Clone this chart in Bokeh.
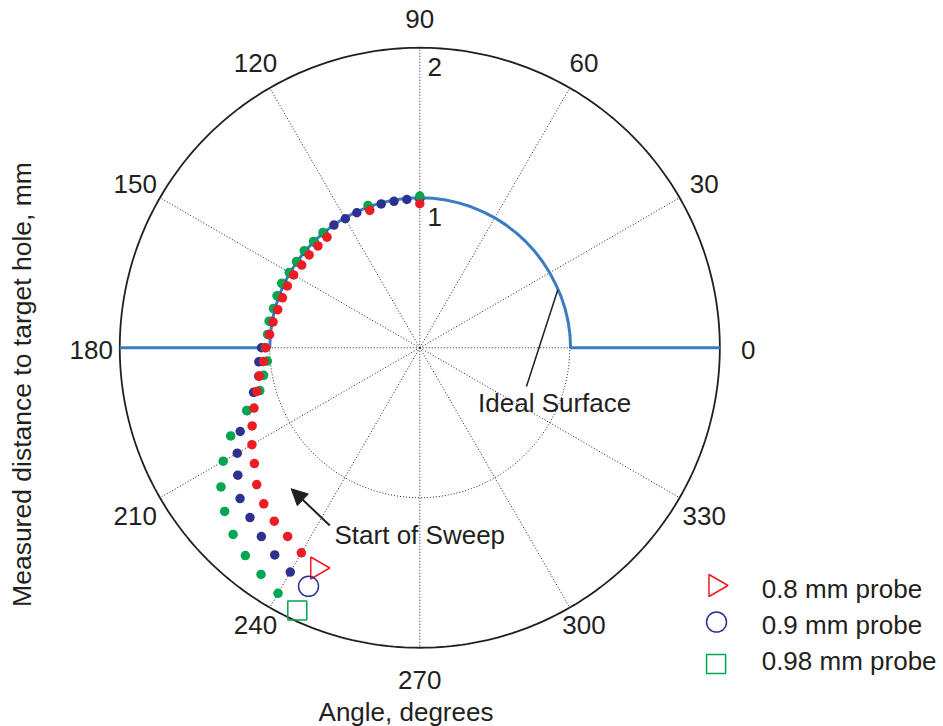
import numpy as np
from bokeh.plotting import figure
from bokeh.models import Range1d, Arrow, NormalHead
from bokeh.embed import file_html
from bokeh.resources import INLINE
from bokeh.core.properties import value

# ---- measured sweeps: angle (deg) and distance to target hole (mm) ----
angles_08 = [90, 110, 130, 135, 140, 145, 150, 155, 160, 165, 170, 175, 180,
             185, 190, 195, 200, 205, 210, 215, 220, 225, 230, 235, 240]
dist_08 = [0.96, 0.974, 0.962, 0.96, 0.963, 0.961, 0.971, 0.974, 0.974, 0.98,
           0.993, 1.005, 1.027, 1.045, 1.087, 1.125, 1.176, 1.233, 1.292,
           1.346, 1.419, 1.471, 1.509, 1.536, 1.579]

angles_09 = [90, 95, 100, 105, 110, 115, 120, 125, 130, 135, 140, 145, 150,
             155, 160, 165, 170, 175, 180, 185, 190, 195, 200, 205, 210, 215,
             220, 225, 230, 235, 240]
dist_09 = [0.99, 0.992, 0.991, 0.993, 0.99, 0.993, 0.993, 0.998, 0.995, 0.995,
           0.997, 0.996, 0.998, 1.0, 1.0, 1.0, 1.005, 1.015, 1.055, 1.077,
           1.09, 1.147, 1.225, 1.321, 1.405, 1.481, 1.564, 1.601, 1.643,
           1.686, 1.727]

angles_098 = [90, 110, 130, 135, 140, 145, 150, 155, 160, 165, 170, 175, 180,
              185, 190, 195, 200, 205, 210, 215, 220, 225, 230, 235, 240]
dist_098 = [1.011, 1.01, 1.004, 1.002, 1.006, 1.003, 1.005, 1.016, 1.013,
            1.01, 1.02, 1.018, 1.03, 1.02, 1.057, 1.104, 1.227, 1.391, 1.513,
            1.618, 1.698, 1.76, 1.809, 1.845, 1.89]

# ideal surface profile
ideal_angles = [0, 0, 5, 10, 15, 20, 25, 30, 35, 40, 45, 50, 55, 60, 65, 70,
                75, 80, 85, 90, 95, 100, 105, 110, 115, 120, 125, 130, 135,
                140, 145, 150, 155, 160, 165, 170, 175, 180, 180]
ideal_r = [2, 1.005, 1.005, 1.004, 1.003, 1.002, 1.0, 1.0, 1.0, 1.0, 1.0,
           1.0, 1.0, 1.0, 1.0, 1.0, 1.0, 1.0, 1.0, 1.0, 1.0, 1.0, 1.0, 1.0,
           1.0, 1.0, 1.0, 1.0, 1.0, 1.0, 1.0, 1.0, 1.0, 1.0, 1.0, 1.0, 1.0,
           1.0, 2]

# start-of-sweep markers
start_angle = [245, 245, 245]
start_r = [1.62, 1.755, 1.932]

probe_labels = ["0.8 mm probe", "0.9 mm probe", "0.98 mm probe"]
angle_ticks = [0, 30, 60, 90, 120, 150, 180, 210, 240, 270, 300, 330]
r_ticks = [1, 2]
r_max = 2

RED, NAVY, GREEN = "#ed1c24", "#2e3192", "#00a651"
BLUE = "#3b7dc4"
INK = "#231f20"
FONT = value("Liberation Sans")
PX = 1 / 150.0  # one screen pixel in data units


def to_xy(ang_deg, r):
    t = np.radians(np.asarray(ang_deg, dtype=float))
    r = np.asarray(r, dtype=float)
    return r * np.cos(t), r * np.sin(t)


def label(x, y, text, align="center", size="26px", angle=0.0):
    p.text(x, y, text=text, angle=angle, text_font=FONT, text_font_size=size,
           text_color=INK, text_align=align, text_baseline="middle")


p = figure(width=943, height=726, output_backend="svg", toolbar_location=None,
           x_range=Range1d(-2.795, 3.491), y_range=Range1d(-2.525, 2.315),
           x_axis_type=None, y_axis_type=None, min_border=0,
           background_fill_color="white", border_fill_color="white")
p.outline_line_color = None
p.grid.visible = False

# polar grid: spokes, inner ring, outer boundary
sx, sy = to_xy(angle_ticks, [r_max] * len(angle_ticks))
p.segment(x0=[0] * len(sx), y0=[0] * len(sy), x1=sx, y1=sy,
          line_color=INK, line_width=1, line_dash="1 2")
ring = np.linspace(0, 360, 361)
rx, ry = to_xy(ring, np.full(ring.shape, r_ticks[0]))
p.line(rx, ry, line_color=INK, line_width=1, line_dash="1 2")
ox, oy = to_xy(ring, np.full(ring.shape, r_max))
p.line(ox, oy, line_color=INK, line_width=1.8)

# ideal surface
ix, iy = to_xy(ideal_angles, ideal_r)
p.line(ix, iy, line_color=BLUE, line_width=3)

# measured sweeps
for ang, dist, col in [(angles_09, dist_09, NAVY),
                       (angles_098, dist_098, GREEN),
                       (angles_08, dist_08, RED)]:
    x, y = to_xy(ang, dist)
    p.scatter(x, y, size=9.5, fill_color=col, line_color=None)

# start-of-sweep markers
mx, my = to_xy(start_angle, start_r)
p.scatter([mx[0]], [my[0]], marker="triangle", size=22, angle=-np.pi / 2,
          fill_color=None, line_color=RED, line_width=1.5)
p.scatter([mx[1]], [my[1]], marker="circle", size=20,
          fill_color=None, line_color=NAVY, line_width=1.5)
p.scatter([mx[2]], [my[2]], marker="square", size=19,
          fill_color=None, line_color=GREEN, line_width=1.5)

# angle labels around the rim (small vertical nudges in the lower half)
lx, ly = to_xy(angle_ticks, [2.19] * len(angle_ticks))
nudge = np.array([-2, 0, 0, 0, 0, 0, -2, -4, 7, -4, 7, -4]) * PX
label(lx, ly + nudge, [str(a) for a in angle_ticks])

# radius labels along 90 degrees
label([0.1, 0.1], [r - 0.125 for r in r_ticks], [str(r) for r in r_ticks])

# axis titles
label([-0.092], [-2.431], ["Angle, degrees"])
label([-2.649], [-0.245], ["Measured distance to target hole, mm"],
      size="26.5px", angle=np.pi / 2)

# annotations
p.segment(x0=[0.711], y0=[-0.258], x1=[0.92], y1=[0.387],
          line_color=INK, line_width=1.5)
label([0.899], [-0.365], ["Ideal Surface"])
p.add_layout(Arrow(end=NormalHead(size=16, fill_color=INK, line_color=INK),
                   x_start=-0.6, y_start=-1.185, x_end=-0.857, y_end=-0.94,
                   line_color=INK, line_width=2))
label([0.0], [-1.245], ["Start of Sweep"])

# legend
p.scatter([1.97], [-1.585], marker="triangle", size=22, angle=-np.pi / 2,
          fill_color=None, line_color=RED, line_width=1.5)
p.scatter([1.978], [-1.829], marker="circle", size=20,
          fill_color=None, line_color=NAVY, line_width=1.5)
p.scatter([1.975], [-2.108], marker="square", size=19,
          fill_color=None, line_color=GREEN, line_width=1.5)
label([2.279] * 3, [-1.605, -1.851, -2.091], probe_labels, align="left")

open("out.html", "w").write(file_html(p, INLINE))
